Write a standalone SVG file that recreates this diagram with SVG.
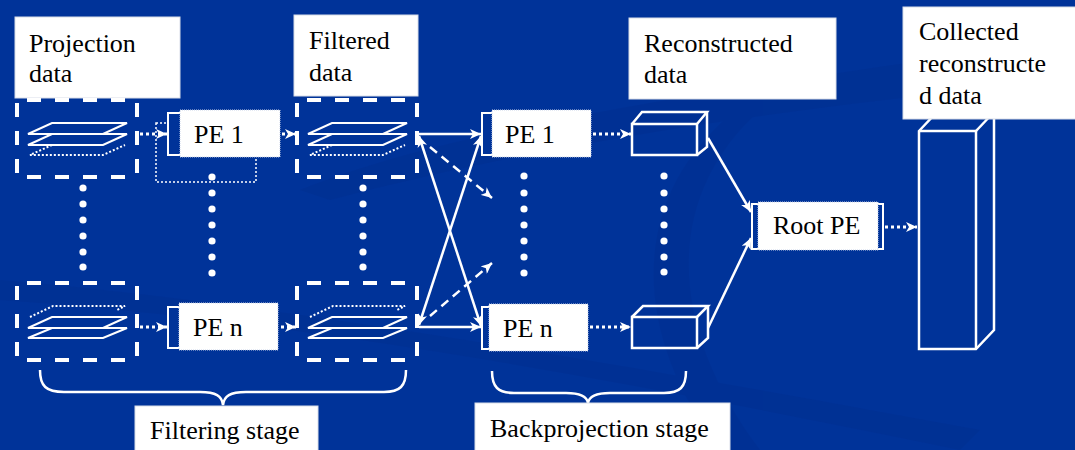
<svg xmlns="http://www.w3.org/2000/svg" xmlns:xlink="http://www.w3.org/1999/xlink" width="1075" height="450" viewBox="0 0 1075 450">
<style>
.lbl{fill:#fff;stroke:#d8dde8;stroke-width:1}
text{font-family:"Liberation Serif",Tinos,"Times New Roman",Times,"DejaVu Serif",serif;font-size:26px;fill:#000}
.dash{stroke:#fff;stroke-width:4;fill:none;stroke-dasharray:14 14}
.plane{stroke:#fff;stroke-width:2;fill:none}
.pdot{stroke:#fff;stroke-width:2;fill:none;stroke-dasharray:2 2}
.pe{fill:#fff;stroke:#c9d3e8;stroke-width:1;stroke-dasharray:1 1}
.pes{fill:#003399;stroke:#fff;stroke-width:2}
.solid{stroke:#fff;stroke-width:2.5;fill:none}
.dotted{stroke:#fff;stroke-width:3;fill:none;stroke-dasharray:3 3}
.dashed{stroke:#fff;stroke-width:2.5;fill:none;stroke-dasharray:9 6}
.shape{stroke:#fff;stroke-width:2.5;fill:none;stroke-linejoin:miter}
.dot{fill:#fff}
</style>
<defs>
<marker id="ah" markerUnits="userSpaceOnUse" markerWidth="12" markerHeight="10" refX="11" refY="5" orient="auto-start-reverse">
<path d="M0,0 L11,5 L0,10 L3,5 z" fill="#fff"/>
</marker>
<g id="dbox">
<line class="dash" x1="10" y1="0" x2="112" y2="0"/>
<line class="dash" x1="10" y1="77" x2="112" y2="77"/>
<line class="dash" x1="0" y1="3" x2="0" y2="77"/>
<line class="dash" x1="120" y1="3" x2="120" y2="77"/>
</g>
<g id="planesTop">
<polygon class="plane" points="11,34 35,23 110,23 86,34"/>
<polygon class="plane" points="11,45 35,34 110,34 86,45"/>
<polyline class="pdot" points="35,45 13,55 86,55 108,45"/>
</g>
<g id="planesBot">
<polyline class="pdot" points="13,34 36,23 108,23 100,27"/>
<polygon class="plane" points="11,45 35,34 110,34 86,45"/>
<polygon class="plane" points="11,55 35,45 110,45 86,55"/>
</g>
<circle id="d" r="3.6" class="dot"/>
</defs>
<rect width="1075" height="450" fill="#003399"/>
<g id="background" fill="#002d8c" opacity="0.35">
<path d="M300,190 C450,130 700,90 1075,40 L1075,80 C750,110 520,150 330,200 Z"/>
<path d="M0,280 C250,300 600,360 980,430 L960,450 C620,380 300,320 0,300 Z"/>
<path d="M760,110 C660,200 670,330 760,450 L720,450 C630,330 630,200 730,115 Z"/>
</g>

<g id="labels">
<g id="lbl-projection"><rect class="lbl" x="15" y="17" width="165" height="81"/><text font-family="Liberation Serif" x="29" y="52">Projection</text><text font-family="Liberation Serif" x="29" y="82">data</text></g>
<g id="lbl-filtered"><rect class="lbl" x="294" y="15" width="124" height="81"/><text font-family="Liberation Serif" x="309" y="49">Filtered</text><text font-family="Liberation Serif" x="309" y="81">data</text></g>
<g id="lbl-reconstructed"><rect class="lbl" x="629" y="18" width="207" height="81"/><text font-family="Liberation Serif" x="644" y="52">Reconstructed</text><text font-family="Liberation Serif" x="644" y="83">data</text></g>
</g>

<g id="proj1" transform="translate(17,100)"><use href="#dbox"/><use href="#planesTop"/></g>
<g id="projn" transform="translate(17,283)"><use href="#dbox"/><use href="#planesBot"/></g>
<g id="filt1" transform="translate(297,100)"><use href="#dbox"/><use href="#planesTop"/></g>
<g id="filtn" transform="translate(297,283)"><use href="#dbox"/><use href="#planesBot"/></g>

<g id="fpe1">
<rect x="156" y="123" width="100" height="59" fill="none" stroke="#fff" stroke-width="1.5" stroke-dasharray="2 2"/>
<rect class="pes" x="168" y="113" width="24" height="42"/>
<rect class="pe" x="180" y="110" width="100" height="47"/>
<text font-family="Liberation Serif" x="194" y="143">PE 1</text>
</g>
<g id="fpen">
<rect class="pes" x="168" y="307" width="24" height="41"/>
<rect class="pe" x="179" y="303" width="99" height="47"/>
<text font-family="Liberation Serif" x="193" y="336">PE n</text>
</g>
<g id="bpe1">
<rect class="pes" x="482" y="113" width="24" height="42"/>
<rect class="pe" x="492" y="110" width="99" height="47"/>
<text font-family="Liberation Serif" x="505" y="143">PE 1</text>
</g>
<g id="bpen">
<rect class="pes" x="482" y="307" width="24" height="42"/>
<rect class="pe" x="489" y="304" width="99" height="47"/>
<text font-family="Liberation Serif" x="503" y="337">PE n</text>
</g>
<g id="cube1">
<rect class="shape" x="632" y="124" width="65" height="31"/>
<polyline class="shape" points="632,124 642,112 707,112 697,124"/>
<polyline class="shape" points="707,112 707,147 697,155"/>
</g>
<g id="cuben">
<rect class="shape" x="632" y="317" width="65" height="31"/>
<polyline class="shape" points="632,317 643,306 708,306 697,317"/>
<polyline class="shape" points="708,306 708,338 697,348"/>
</g>
<g id="rootpe">
<rect class="pes" x="752" y="204" width="131" height="45"/>
<rect class="pe" x="758" y="202" width="120" height="48"/>
<text font-family="Liberation Serif" x="773" y="234">Root PE</text>
</g>
<g id="collected">
<polygon class="shape" points="919,131 937,112 994,112 994,330 976,349 919,349"/>
<line class="shape" x1="919" y1="131" x2="976" y2="131"/>
<line class="shape" x1="976" y1="131" x2="976" y2="349"/>
<line class="shape" x1="976" y1="131" x2="994" y2="112"/>
<rect class="lbl" x="903" y="7" width="174" height="112"/>
<text font-family="Liberation Serif" x="919" y="40">Collected</text>
<text font-family="Liberation Serif" x="919" y="72">reconstructe</text>
<text font-family="Liberation Serif" x="919" y="104">d data</text>
</g>

<g id="ellipses">
<use href="#d" x="83" y="188"/><use href="#d" x="83" y="204"/><use href="#d" x="83" y="220"/><use href="#d" x="83" y="236"/><use href="#d" x="83" y="252"/><use href="#d" x="83" y="267"/>
<use href="#d" x="212" y="177"/><use href="#d" x="212" y="193"/><use href="#d" x="212" y="209"/><use href="#d" x="212" y="225"/><use href="#d" x="212" y="241"/><use href="#d" x="212" y="257"/><use href="#d" x="212" y="273"/>
<use href="#d" x="363" y="188"/><use href="#d" x="363" y="204"/><use href="#d" x="363" y="220"/><use href="#d" x="363" y="236"/><use href="#d" x="363" y="252"/><use href="#d" x="363" y="267"/>
<use href="#d" x="524" y="176"/><use href="#d" x="524" y="193"/><use href="#d" x="524" y="209"/><use href="#d" x="524" y="225"/><use href="#d" x="524" y="241"/><use href="#d" x="524" y="257"/><use href="#d" x="524" y="273"/>
<use href="#d" x="664" y="176"/><use href="#d" x="664" y="193"/><use href="#d" x="664" y="209"/><use href="#d" x="664" y="225"/><use href="#d" x="664" y="241"/><use href="#d" x="664" y="257"/><use href="#d" x="664" y="272"/>
</g>

<g id="connectors">
<line class="dotted" x1="140" y1="134" x2="167" y2="134" marker-end="url(#ah)"/>
<line class="dotted" x1="282" y1="134" x2="296" y2="134" marker-end="url(#ah)"/>
<line class="dotted" x1="140" y1="327" x2="167" y2="327" marker-end="url(#ah)"/>
<line class="dotted" x1="281" y1="327" x2="296" y2="327" marker-end="url(#ah)"/>
<line class="solid" x1="419" y1="134" x2="481" y2="134" marker-end="url(#ah)"/>
<line class="solid" x1="419" y1="327" x2="481" y2="327" marker-end="url(#ah)"/>
<line class="solid" x1="419" y1="136" x2="481" y2="326" marker-start="url(#ah)" marker-end="url(#ah)"/>
<line class="solid" x1="419" y1="325" x2="481" y2="136" marker-start="url(#ah)" marker-end="url(#ah)"/>
<line class="dashed" x1="430" y1="147" x2="492" y2="198" marker-end="url(#ah)"/>
<line class="dashed" x1="430" y1="316" x2="492" y2="263" marker-end="url(#ah)"/>
<line class="dotted" x1="593" y1="134" x2="631" y2="134" marker-end="url(#ah)"/>
<line class="dotted" x1="590" y1="327" x2="631" y2="327" marker-end="url(#ah)"/>
<line class="solid" x1="708" y1="138" x2="751" y2="212" marker-end="url(#ah)"/>
<line class="solid" x1="708" y1="328" x2="751" y2="238" marker-end="url(#ah)"/>
<line class="dotted" x1="885" y1="227" x2="917" y2="227" marker-end="url(#ah)"/>
</g>

<g id="filtering-stage">
<path class="solid" stroke-width="2" d="M40,370 C40,386 46,392 64,392 L200,392 C216,392 222,396 223,405 C224,396 230,392 246,392 L384,392 C400,392 406,386 406,370"/>
<rect class="lbl" x="135" y="406" width="183" height="46"/>
<text font-family="Liberation Serif" x="150" y="439">Filtering stage</text>
</g>
<g id="backprojection-stage">
<path class="solid" stroke-width="2" d="M492,371 C492,387 498,393 514,393 L566,393 C582,393 587,397 588,403 C589,397 594,393 610,393 L664,393 C680,393 686,387 686,371"/>
<rect class="lbl" x="475" y="403" width="255" height="49"/>
<text font-family="Liberation Serif" x="490" y="437">Backprojection stage</text>
</g>
</svg>
